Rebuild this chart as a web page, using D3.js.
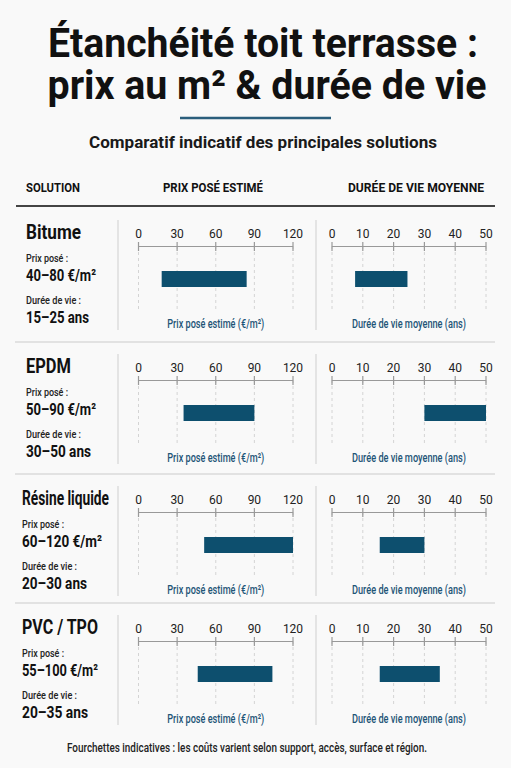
<!DOCTYPE html>
<html>
<head>
<meta charset="utf-8">
<script src="https://cdn.jsdelivr.net/npm/d3@7"></script>
<style>
  body { margin: 0; background: #f9f9f9; }
  svg { display: block; }
</style>
</head>
<body>
<script>
var solutions = ["Bitume", "EPDM", "Résine liquide", "PVC / TPO"];
var priceLabels = ["40–80 €/m²", "50–90 €/m²", "60–120 €/m²", "55–100 €/m²"];
var lifeLabels = ["15–25 ans", "30–50 ans", "20–30 ans", "20–35 ans"];
var priceLow = [18, 35, 51, 46];
var priceHigh = [84, 90, 120, 104];
var lifeLow = [7.5, 30, 15.5, 15.5];
var lifeHigh = [24.5, 50, 30, 35];
var priceTicks = [0, 30, 60, 90, 120];
var lifeTicks = [0, 10, 20, 30, 40, 50];

// mise en page : haut de chaque ligne, largeurs de texte mesurées sur le modèle
var rowTop = [208, 342, 474, 603];
var nameW = [55, 45, 87, 76];
var priceW = [70, 70, 80, 76];
var lifeW = [63, 65, 65, 66];

var font = "Roboto, 'Noto Sans', sans-serif";
var blue = "#0d4f6e";

var svg = d3.select("body").append("svg")
    .attr("width", 511)
    .attr("height", 768)
    .style("font-family", font);

function txt(g, x, y, s, size, weight, anchor, fill, width) {
  var t = g.append("text").attr("x", x).attr("y", y)
      .attr("font-size", size).attr("font-weight", weight)
      .attr("text-anchor", anchor).attr("fill", fill).text(s);
  if (width) t.attr("textLength", width).attr("lengthAdjust", "spacingAndGlyphs");
  return t;
}

// titre
txt(svg, 263, 57, "Étanchéité toit terrasse :", 41, 700, "middle", "#111", 430);
txt(svg, 267, 99, "prix au m² & durée de vie", 41, 700, "middle", "#111", 439);
svg.append("line").attr("x1", 180).attr("x2", 331).attr("y1", 118).attr("y2", 118)
    .attr("stroke", "#2b5e7c").attr("stroke-width", 2.5);
txt(svg, 263, 148, "Comparatif indicatif des principales solutions", 16.5, 700, "middle", "#1a1a1a", 348);

// en-têtes
txt(svg, 26, 192, "SOLUTION", 13, 700, "start", "#111", 54);
txt(svg, 213, 192, "PRIX POSÉ ESTIMÉ", 13, 700, "middle", "#111", 100);
txt(svg, 416, 192, "DURÉE DE VIE MOYENNE", 13, 700, "middle", "#111", 136);
svg.append("line").attr("x1", 16).attr("x2", 495).attr("y1", 206).attr("y2", 206)
    .attr("stroke", "#444").attr("stroke-width", 2);

var xPrice = d3.scaleLinear().domain([0, 120]).range([138.5, 293]);
var xLife = d3.scaleLinear().domain([0, 50]).range([332, 486]);

function panel(g, x, ticks, lo, hi, caption, capW) {
  g.selectAll(".grid").data(ticks).enter().append("line")
      .attr("x1", x).attr("x2", x).attr("y1", 12).attr("y2", 76)
      .attr("stroke", "#d4d4d4").attr("stroke-dasharray", "3,3");
  g.selectAll(".tlab").data(ticks).enter().append("text")
      .attr("x", x).attr("y", 4).attr("text-anchor", "middle")
      .attr("font-size", 12).attr("fill", "#222").text(function(d) { return d; });
  g.append("line").attr("x1", x(ticks[0])).attr("x2", x(ticks[ticks.length - 1]))
      .attr("y1", 12.5).attr("y2", 12.5).attr("stroke", "#999").attr("stroke-width", 1.2);
  g.selectAll(".tk").data(ticks).enter().append("line")
      .attr("x1", x).attr("x2", x).attr("y1", 8).attr("y2", 17)
      .attr("stroke", "#999").attr("stroke-width", 1.2);
  g.append("rect").attr("x", x(lo)).attr("y", 37).attr("width", x(hi) - x(lo)).attr("height", 16)
      .attr("fill", blue);
  var r = x.range();
  txt(g, (r[0] + r[1]) / 2, 94, caption, 13, 500, "middle", "#1e5577", capW);
}

solutions.forEach(function(s, i) {
  var g = svg.append("g").attr("transform", "translate(0," + rowTop[i] + ")");
  if (i > 0) {
    g.append("line").attr("x1", 15).attr("x2", 495).attr("y1", 0).attr("y2", 0)
        .attr("stroke", "#e2e2e2").attr("stroke-width", 2);
  }
  g.append("line").attr("x1", 118).attr("x2", 118).attr("y1", 12).attr("y2", 122)
      .attr("stroke", "#dcdcdc").attr("stroke-width", 1.5);
  g.append("line").attr("x1", 316).attr("x2", 316).attr("y1", 12).attr("y2", 122)
      .attr("stroke", "#dcdcdc").attr("stroke-width", 1.5);

  var lx = i < 2 ? 26 : 22;
  txt(g, lx, 31, s, 19.5, 700, "start", "#111", nameW[i]);
  txt(g, lx, 54, "Prix posé :", 11, 500, "start", "#222", 42);
  txt(g, lx, 73, priceLabels[i], 17, 700, "start", "#111", priceW[i]);
  txt(g, lx, 96, "Durée de vie :", 11, 500, "start", "#222", 55);
  txt(g, lx, 115, lifeLabels[i], 17, 700, "start", "#111", lifeW[i]);

  var gp = g.append("g").attr("transform", "translate(0,26)");
  panel(gp, xPrice, priceTicks, priceLow[i], priceHigh[i], "Prix posé estimé (€/m²)", 97);
  var gl = g.append("g").attr("transform", "translate(0,26)");
  panel(gl, xLife, lifeTicks, lifeLow[i], lifeHigh[i], "Durée de vie moyenne (ans)", 114);
});

txt(svg, 247, 752, "Fourchettes indicatives : les coûts varient selon support, accès, surface et région.",
    12, 500, "middle", "#222", 360);
</script>
</body>
</html>
